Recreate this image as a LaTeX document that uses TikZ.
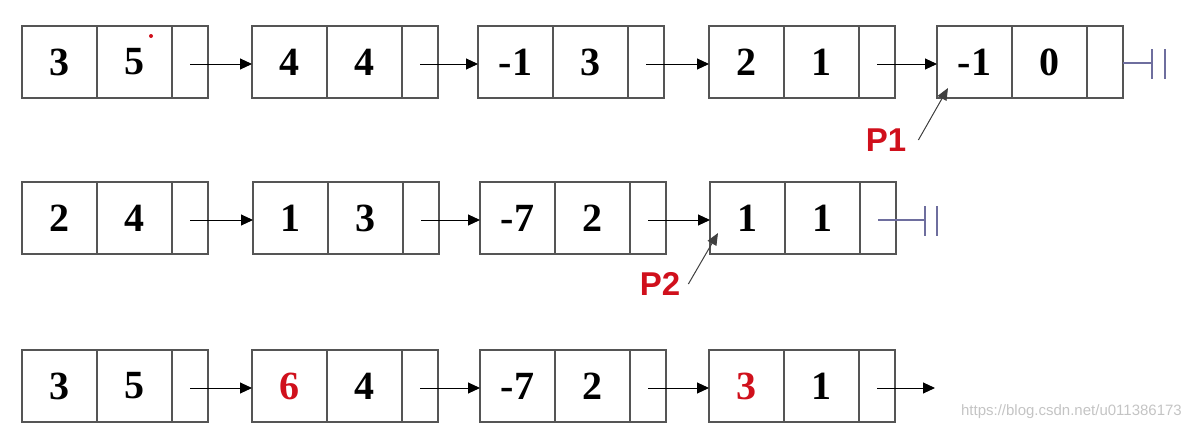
\documentclass[tikz,border=0pt]{standalone}
\usepackage{fontspec}
\setmainfont{Liberation Serif}
\newfontfamily\arialf{Liberation Sans}
\usetikzlibrary{arrows.meta}
\definecolor{boxgray}{HTML}{555555}
\definecolor{numred}{HTML}{D0101C}
\definecolor{nullblue}{HTML}{6E6E9E}
\definecolor{wmgray}{HTML}{C4C4C4}
\tikzset{
  cell/.style={draw=boxgray, line width=1.3pt, inner sep=0pt, outer sep=0pt,
    minimum height=72pt, font=\fontsize{40}{40}\selectfont\bfseries},
  dcell/.style={cell, minimum width=75pt},
  pcell/.style={cell, minimum width=36pt},
  link/.style={-{Triangle[length=12pt,width=11pt]}, line width=1pt, black},
  pointer/.style={-{Triangle[length=12pt,width=10pt]}, line width=1pt, black!75},
  plabel/.style={font=\arialf\bfseries\fontsize{33}{33}\selectfont, text=numred, inner sep=0pt},
  nullsym/.style={draw=nullblue, line width=1.3pt},
}
\newcommand\lnbox[5]{%
  \node[dcell] (#1a) at ({#2+37.5},#3) {#4};
  \node[dcell] (#1b) at ({#2+112.5},#3) {#5};
  \node[pcell] (#1c) at ({#2+168},#3) {};}
\begin{document}
\begin{tikzpicture}[x=1pt,y=-1pt]
\useasboundingbox (0,0) rectangle (1189,431);
% row 1
\lnbox{ra}{22}{62}{3}{5}
\lnbox{rb}{252}{62}{4}{4}
\lnbox{rc}{478}{62}{-1}{3}
\lnbox{rd}{709}{62}{2}{1}
\lnbox{re}{937}{62}{-1}{0}
\fill[numred] (151,36) circle (2pt);
\draw[link] ([yshift=-2pt]rac.center) -- ([yshift=-2pt]rba.west);
\draw[link] ([yshift=-2pt]rbc.center) -- ([yshift=-2pt]rca.west);
\draw[link] ([yshift=-2pt]rcc.center) -- ([yshift=-2pt]rda.west);
\draw[link] ([yshift=-2pt]rdc.center) -- ([yshift=-2pt]rea.west);
\coordinate (n1) at (1152,63);
\draw[nullsym] ([yshift=-1pt]rec.east) -- (n1);
\draw[nullsym] (1152,49) -- (1152,79) (1165,49) -- (1165,79);
\node[plabel] (p1) at (886,140) {P1};
\coordinate (t1) at (948,88);
\draw[pointer] ([xshift=12pt]p1.east) -- (t1);
% row 2
\lnbox{sa}{22}{218}{2}{4}
\lnbox{sb}{253}{218}{1}{3}
\lnbox{sc}{480}{218}{-7}{2}
\lnbox{sd}{710}{218}{1}{1}
\draw[link] ([yshift=-2pt]sac.center) -- ([yshift=-2pt]sba.west);
\draw[link] ([yshift=-2pt]sbc.center) -- ([yshift=-2pt]sca.west);
\draw[link] ([yshift=-2pt]scc.center) -- ([yshift=-2pt]sda.west);
\coordinate (n2) at (925,220);
\draw[nullsym] ([yshift=-2pt]sdc.center) -- (n2);
\draw[nullsym] (925,206) -- (925,236) (937,206) -- (937,236);
\node[plabel] (p2) at (660,284) {P2};
\coordinate (t2) at (718,233);
\draw[pointer] ([xshift=8pt]p2.east) -- (t2);
% row 3
\lnbox{ta}{22}{386}{3}{5}
\lnbox{tb}{252}{386}{\textcolor{numred}{6}}{4}
\lnbox{tc}{480}{386}{-7}{2}
\lnbox{td}{709}{386}{\textcolor{numred}{3}}{1}
\draw[link] ([yshift=-2pt]tac.center) -- ([yshift=-2pt]tba.west);
\draw[link] ([yshift=-2pt]tbc.center) -- ([yshift=-2pt]tca.west);
\draw[link] ([yshift=-2pt]tcc.center) -- ([yshift=-2pt]tda.west);
\coordinate (e3) at (935,388);
\draw[link] ([yshift=-2pt]tdc.center) -- (e3);
\node[font=\arialf\fontsize{15}{15}\selectfont, text=wmgray, anchor=east, inner sep=0pt] (wm) at (1182,412) {https://blog.csdn.net/u011386173};
\end{tikzpicture}
\end{document}
